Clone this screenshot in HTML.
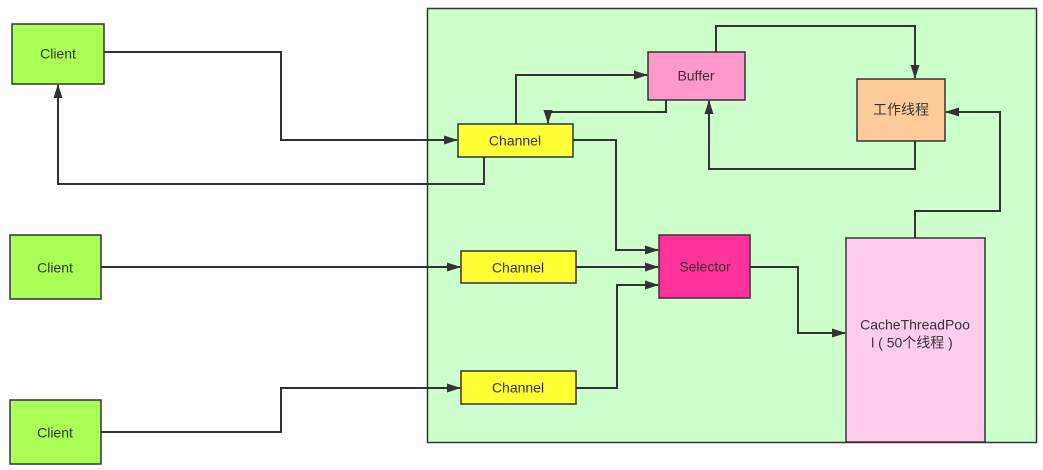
<!DOCTYPE html>
<html><head><meta charset="utf-8"><style>
body{margin:0;background:#fff;}
svg text{font-family:"Liberation Sans","Noto Sans CJK SC",sans-serif;font-size:14px;fill:#333;text-anchor:middle;dominant-baseline:middle;}
</style></head><body>
<svg width="1043" height="465" viewBox="0 0 1043 465">
<defs><marker id="a" markerWidth="14" markerHeight="12" refX="13" refY="6" orient="auto" markerUnits="userSpaceOnUse"><path d="M0,1.5 L14,6 L0,10.5 Z" fill="#333"/></marker></defs>
<rect x="427.5" y="8.5" width="609" height="434" fill="#ccffcc" stroke="#333" stroke-width="1.5"/>
<g fill="none" stroke="#333" stroke-width="2" marker-end="url(#a)">
<polyline points="104,52 281,52 281,140 457,140"/>
<polyline points="484,157 484,184 58,184 58,85"/>
<polyline points="516,124 516,75 647,75"/>
<polyline points="666,100 666,112 548,112 548,123"/>
<polyline points="716,52 716,26 915,26 915,78"/>
<polyline points="915,141 915,169 709,169 709,101"/>
<polyline points="573,140 616,140 616,250 658,250"/>
<polyline points="101,267 460,267"/>
<polyline points="576,267 658,267"/>
<polyline points="101,432 281,432 281,388 460,388"/>
<polyline points="576,388 617,388 617,285 658,285"/>
<polyline points="750,267 798,267 798,333 845,333"/>
<polyline points="915,238 915,211 1000,211 1000,112 946,112"/>
</g>
<g stroke="#333" stroke-width="1.5">
<rect x="12" y="24" width="92" height="60" fill="#aaff55"/>
<rect x="10" y="235" width="91" height="64" fill="#aaff55"/>
<rect x="10" y="400" width="91" height="64" fill="#aaff55"/>
<rect x="458" y="124" width="115" height="33" fill="#ffff33"/>
<rect x="461" y="251" width="115" height="32" fill="#ffff33"/>
<rect x="461" y="371" width="115" height="33" fill="#ffff33"/>
<rect x="648" y="52" width="97" height="48" fill="#ff99cc"/>
<rect x="857" y="79" width="88" height="62" fill="#ffcc99"/>
<rect x="659" y="235" width="91" height="63" fill="#ff3399"/>
<rect x="846" y="238" width="139" height="204" fill="#ffccee"/>
</g>
<text x="58" y="55">Client</text>
<text x="55" y="269">Client</text>
<text x="55" y="434">Client</text>
<text x="515" y="142">Channel</text>
<text x="518" y="269">Channel</text>
<text x="518" y="389">Channel</text>
<text x="696" y="77">Buffer</text>
<text x="901" y="111">工作线程</text>
<text x="705" y="268">Selector</text>
<text x="915" y="326">CacheThreadPoo</text>
<text x="912" y="344">l ( 50个线程 )</text>
</svg>
</body></html>
